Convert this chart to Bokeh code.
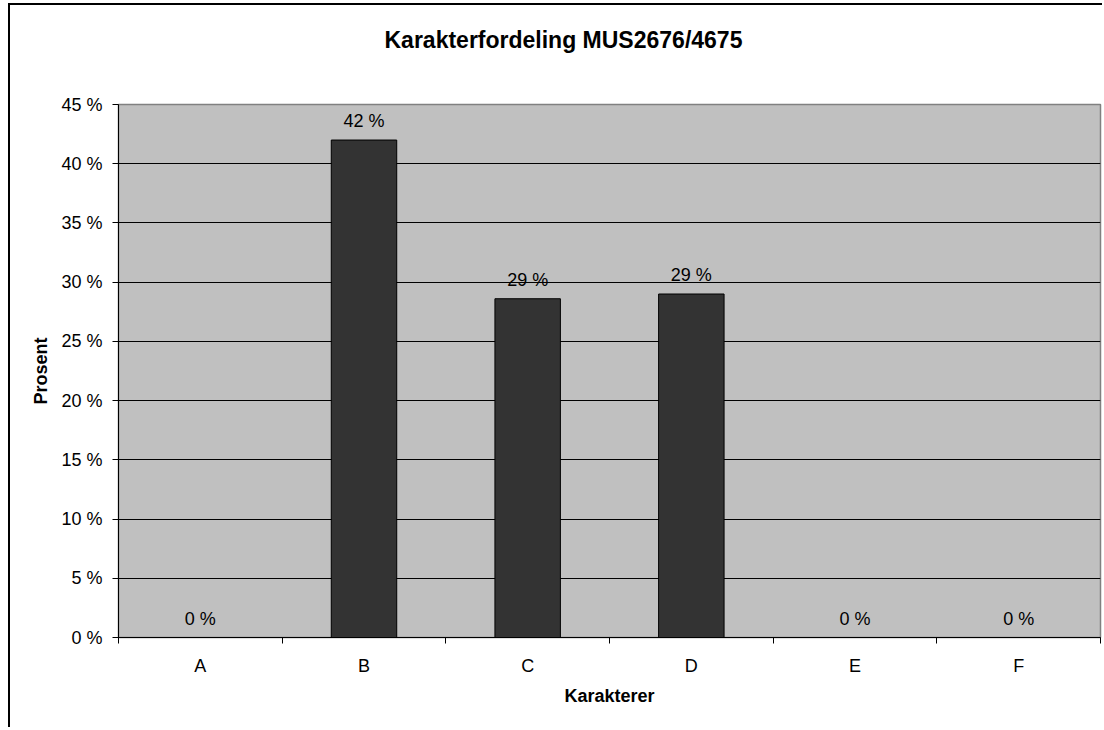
from bokeh.plotting import figure
from bokeh.models import ColumnDataSource, FixedTicker, LabelSet, Range1d, Title
from bokeh.core.properties import value
from bokeh.embed import file_html
from bokeh.resources import INLINE

title_text = "Karakterfordeling MUS2676/4675"
categories = ["A", "B", "C", "D", "E", "F"]
values = [0, 42.0, 28.6, 29.0, 0, 0]
y_ticks = [0, 5, 10, 15, 20, 25, 30, 35, 40, 45]
y_label = "Prosent"
x_label = "Karakterer"

FONT = "Liberation Sans"

x = [i + 0.5 for i in range(len(categories))]
labels = [f"{round(v)} %" for v in values]
source = ColumnDataSource(dict(x=x, top=values, label=labels))

p = figure(width=1094, height=724, output_backend="svg", toolbar_location=None,
           x_range=Range1d(0, len(categories)), y_range=Range1d(y_ticks[0], y_ticks[-1]),
           min_border_left=108, min_border_right=4, min_border_top=99, min_border_bottom=92,
           background_fill_color="#C0C0C0", border_fill_color="white",
           outline_line_color="#808080", outline_line_width=1.5,
           styles={"margin-top": "3px", "margin-left": "8px",
                   "border-top": "2px solid black", "border-left": "2px solid black"})

p.title.visible = False

# spacer between the frame and the chart title
p.add_layout(Title(text=" ", text_font_size="2px", standoff=48), "above")
p.add_layout(Title(text=title_text, align="left", offset=266, standoff=0,
                   vertical_align="bottom", text_font=FONT, text_font_size="23px",
                   text_font_style="bold", text_color="black"), "above")

p.vbar(x="x", top="top", bottom=0, width=0.4, source=source,
       fill_color="#333333", line_color="black", line_width=1)

p.add_layout(LabelSet(x="x", y="top", text="label", source=source, y_offset=9,
                      text_align="center", text_baseline="bottom",
                      text_font=value(FONT), text_font_size=value("18px"),
                      text_color="black"))

# x axis
p.xaxis.ticker = FixedTicker(ticks=x, minor_ticks=list(range(len(categories) + 1)))
p.xaxis.major_label_overrides = {xi: c for xi, c in zip(x, categories)}
p.xaxis.major_tick_line_color = None
p.xaxis.major_tick_out = 0
p.xaxis.major_tick_in = 0
p.xaxis.minor_tick_line_color = "black"
p.xaxis.minor_tick_out = 6
p.xaxis.minor_tick_in = 0
p.xaxis.major_label_standoff = 12
p.xaxis.axis_label = x_label
p.xaxis.axis_label_standoff = 7
p.xgrid.visible = False

# y axis
p.yaxis.ticker = FixedTicker(ticks=y_ticks)
p.yaxis.major_label_overrides = {t: f"{t} %" for t in y_ticks}
p.yaxis.major_tick_out = 6
p.yaxis.major_tick_in = 0
p.yaxis.minor_tick_line_color = None
p.yaxis.major_label_standoff = 10
p.yaxis.axis_label = y_label
p.yaxis.axis_label_standoff = 7
p.ygrid.ticker = FixedTicker(ticks=y_ticks[1:-1])
p.ygrid.grid_line_color = "black"
p.ygrid.grid_line_width = 1

for ax in (p.xaxis[0], p.yaxis[0]):
    ax.axis_line_color = "black"
    ax.axis_line_width = 1
    ax.major_tick_line_width = 1
    ax.major_label_text_font = FONT
    ax.major_label_text_font_size = "18px"
    ax.major_label_text_color = "black"
    ax.axis_label_text_font = FONT
    ax.axis_label_text_font_size = "18px"
    ax.axis_label_text_font_style = "bold"
    ax.axis_label_text_color = "black"
p.yaxis.major_tick_line_color = "black"

open("out.html", "w").write(file_html(p, INLINE))
